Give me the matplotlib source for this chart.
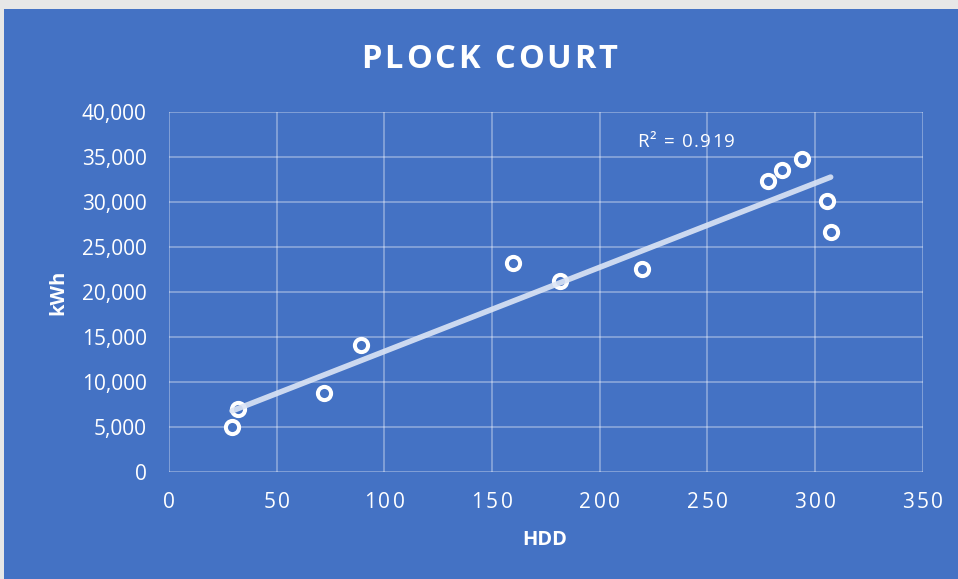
import numpy as np
import matplotlib
matplotlib.use("Agg")
import matplotlib.pyplot as plt
from matplotlib.patches import Rectangle
from matplotlib.ticker import FuncFormatter, MultipleLocator
from matplotlib.transforms import offset_copy, blended_transform_factory

# Heating degree days vs. electricity use
hdd = [29.3, 32.2, 72.1, 89.3, 159.9, 181.6, 219.6, 278.1, 284.7, 293.9, 305.8, 307.3]
kwh = [4930, 6930, 8710, 14040, 23200, 21220, 22520, 32330, 33520, 34740, 30080, 26600]

title = "PLOCK COURT"
x_label = "HDD"
y_label = "kWh"
x_ticks = [0, 50, 100, 150, 200, 250, 300, 350]

BLUE = "#4472C4"
FONT = "Open Sans"

fig = plt.figure(figsize=(9.58, 5.79), dpi=100)
fig.patch.set_facecolor("#E7E7E7")
fig.add_artist(Rectangle((4 / 958, 0), 1, 1 - 9 / 579, transform=fig.transFigure,
                         facecolor=BLUE, edgecolor="none", zorder=0))
renderer = fig.canvas.get_renderer()


def text_width_pt(s, **kw):
    t = fig.text(0, 0, s, **kw)
    w = t.get_window_extent(renderer).width
    t.remove()
    return w * 72 / fig.dpi


def spaced_text(x, y, s, transform, spacing_pt, ha="center", **kw):
    """Draw a string character by character with extra tracking."""
    base = text_width_pt("H", **kw)
    lefts = [text_width_pt(s[:i] + "H", **kw) - base + i * spacing_pt for i in range(len(s))]
    total = text_width_pt(s, **kw) + (len(s) - 1) * spacing_pt
    shift = -total / 2 if ha == "center" else 0
    for i, ch in enumerate(s):
        if ch == " ":
            continue
        tr = offset_copy(transform, fig=fig, x=lefts[i] + shift, y=0, units="points")
        fig.text(x, y, ch, transform=tr, ha="left", **kw)


ax = fig.add_axes([169 / 958, (579 - 471.7) / 579, (922.6 - 169) / 958, (471.7 - 111.7) / 579])
ax.set_facecolor(BLUE)
ax.set_xlim(0, 350)
ax.set_ylim(0, 40000)
ax.set_xticks(x_ticks)
ax.set_xticklabels([])
ax.yaxis.set_major_locator(MultipleLocator(5000))
ax.yaxis.set_major_formatter(FuncFormatter(lambda v, p: f"{int(v):,}"))
for s in ax.spines.values():
    s.set_visible(False)
ax.grid(True, color="white", alpha=0.35, linewidth=1.3)
ax.set_axisbelow(True)
ax.tick_params(length=0, colors="white", labelsize=15)
ax.tick_params(axis="y", pad=16)
for lab in ax.get_yticklabels():
    lab.set_fontfamily(FONT)

# x tick labels with tracking
xt = blended_transform_factory(ax.transData, fig.transFigure)
for v in x_ticks:
    spaced_text(v, 1 - 503 / 579, f"{v}", xt, 2.0, color="white", fontsize=15,
                family=FONT, va="center")

x = np.array(hdd)
y = np.array(kwh)
ax.plot(x, y, linestyle="none", marker="o", markersize=9.5,
        markerfacecolor=BLUE, markeredgecolor="white", markeredgewidth=2.9, zorder=3)

# Linear trendline and coefficient of determination
slope, intercept = np.polyfit(x, y, 1)
xs = np.array([x.min(), x.max()])
ax.plot(xs, slope * xs + intercept, color="#DCE5F5", alpha=0.9, linewidth=4.0,
        solid_capstyle="round", zorder=4)
pred = slope * x + intercept
r2 = 1 - np.sum((y - pred) ** 2) / np.sum((y - y.mean()) ** 2)
spaced_text(637 / 958, 1 - 141.7 / 579, f"R² = {r2:.3f}", fig.transFigure, 0.9, ha="left",
            color="white", fontsize=13.5, family=FONT, va="center")

spaced_text(489 / 958, 1 - 59 / 579, title, fig.transFigure, 2.2, color="white",
            fontsize=23.5, fontweight="bold", family=FONT, va="center")
fig.text(545 / 958, 1 - 540 / 579, x_label, color="white", fontsize=14.5, fontweight="bold",
         family=FONT, ha="center", va="center")
fig.text(58 / 958, 1 - 292 / 579, y_label, color="white", fontsize=14.5, fontweight="bold",
         family=FONT, ha="center", va="center", rotation=90)

fig.savefig("out.png", dpi=100, facecolor=fig.get_facecolor())
